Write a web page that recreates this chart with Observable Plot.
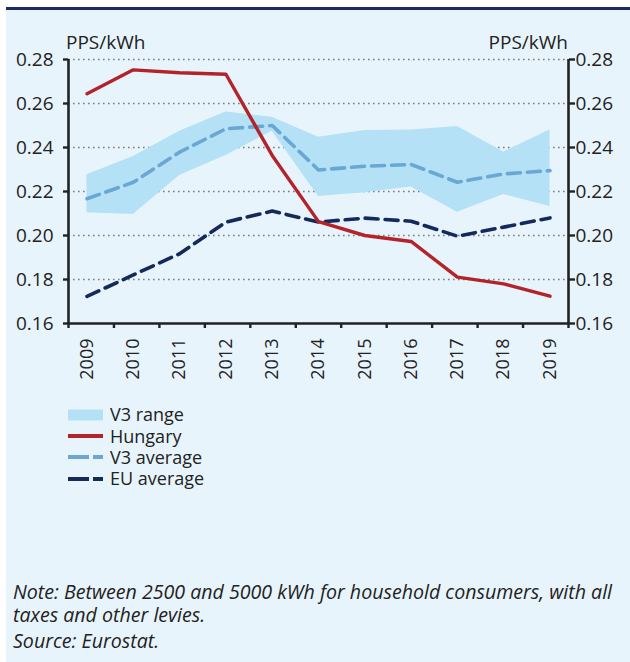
<!DOCTYPE html>
<html>
<head>
<meta charset="utf-8">
<script src="https://cdn.jsdelivr.net/npm/d3@7"></script>
<script src="https://cdn.jsdelivr.net/npm/@observablehq/plot@0.6"></script>
<style>
  html, body { margin: 0; padding: 0; background: #ffffff; }
  #wrap { position: relative; width: 630px; height: 662px; overflow: hidden; font-family: "Open Sans", sans-serif; color: #222; }
  #bg { position: absolute; left: 6px; top: 10px; right: 0; bottom: 0; background: #e8f4fb; }
  #topline { position: absolute; left: 6px; right: 0; top: 7px; height: 3px; background: #1c2a66; }
  #chart { position: absolute; left: 0; top: 0; }
  .unit { position: absolute; top: 29px; font-size: 19px; line-height: 26px; }
  #legend { position: absolute; left: 68px; top: 404px; font-size: 18px; }
  .row { display: flex; align-items: center; height: 21.4px; }
  .row svg { margin-right: 7px; flex: none; }
  .row span { display: block; height: 21px; line-height: 21px; }
  #notes { position: absolute; left: 13px; top: 580px; font-size: 19.6px; font-style: italic; }
  #notes div { white-space: nowrap; height: 23px; line-height: 23px; }
</style>
</head>
<body>
<div id="wrap">
  <div id="bg"></div>
  <div id="topline"></div>
  <div id="chart"></div>
  <div class="unit" style="left:66px;">PPS/kWh</div>
  <div class="unit" style="right:62px;">PPS/kWh</div>
  <div id="legend"></div>
  <div id="notes">
    <div>Note: Between 2500 and 5000 kWh for household consumers, with all</div>
    <div>taxes and other levies.</div>
    <div style="margin-top:3px;">Source: Eurostat.</div>
  </div>
</div>
<script>
const years = [2009, 2010, 2011, 2012, 2013, 2014, 2015, 2016, 2017, 2018, 2019];
const hungary = [0.2644, 0.2753, 0.2740, 0.2733, 0.2364, 0.2063, 0.2000, 0.1973, 0.1811, 0.1780, 0.1724];
const v3Average = [0.2167, 0.2242, 0.2379, 0.2485, 0.2500, 0.2298, 0.2315, 0.2323, 0.2242, 0.2280, 0.2295];
const v3Upper = [0.2276, 0.2359, 0.2474, 0.2561, 0.2538, 0.2447, 0.2477, 0.2480, 0.2495, 0.2379, 0.2480];
const v3Lower = [0.2103, 0.2095, 0.2273, 0.2364, 0.2474, 0.2177, 0.2194, 0.2220, 0.2106, 0.2186, 0.2132];
const euAverage = [0.1723, 0.1821, 0.1917, 0.2061, 0.2111, 0.2061, 0.2079, 0.2065, 0.1997, 0.2038, 0.2080];
const yTicks = [0.16, 0.18, 0.20, 0.22, 0.24, 0.26, 0.28];
const seriesNames = ["V3 range", "Hungary", "V3 average", "EU average"];

const colors = {
  range: "#b4e1f5",
  hungary: "#b3232a",
  v3: "#6aa7d4",
  eu: "#152a5c",
  axis: "#222222",
  grid: "#7a7a7a"
};

const rows = years.map((year, i) => ({
  year, hungary: hungary[i], v3: v3Average[i], hi: v3Upper[i], lo: v3Lower[i], eu: euAverage[i]
}));

const xDomain = [2008.6, 2019.4];
const yDomain = [0.16, 0.28];
const boundaries = d3.range(years.length + 1).map(k => xDomain[0] + k * (xDomain[1] - xDomain[0]) / years.length);

const chart = Plot.plot({
  width: 630,
  height: 400,
  marginTop: 59,
  marginBottom: 77,
  marginLeft: 68,
  marginRight: 62,
  style: { background: "transparent", fontFamily: "Open Sans, sans-serif", fontSize: "19px", color: "#222" },
  x: { domain: xDomain, axis: null },
  y: { domain: yDomain, axis: null },
  marks: [
    Plot.ruleY(yTicks.slice(1), { x1: xDomain[0], x2: xDomain[1], stroke: colors.grid, strokeWidth: 1.3, strokeDasharray: "1.6,3.4" }),
    Plot.areaY(rows, { x: "year", y1: "lo", y2: "hi", fill: colors.range, curve: "linear" }),
    Plot.line(rows, { x: "year", y: "eu", stroke: colors.eu, strokeWidth: 3.6, strokeDasharray: "13,7" }),
    Plot.line(rows, { x: "year", y: "v3", stroke: colors.v3, strokeWidth: 3.6, strokeDasharray: "13,7" }),
    Plot.line(rows, { x: "year", y: "hungary", stroke: colors.hungary, strokeWidth: 3.4 }),
    Plot.ruleX(xDomain, { y1: yDomain[0], y2: yDomain[1], stroke: colors.axis, strokeWidth: 2.6 }),
    Plot.ruleY([yDomain[0]], { x1: xDomain[0], x2: xDomain[1], stroke: colors.axis, strokeWidth: 2.6 }),
    Plot.axisY({ ticks: yTicks, anchor: "left", tickSize: 5, tickPadding: 10, tickFormat: d3.format(".2f"), stroke: colors.axis, strokeWidth: 2.4, fill: "#222", label: null }),
    Plot.axisY({ ticks: yTicks, anchor: "right", tickSize: 6, tickPadding: 1, tickFormat: d3.format(".2f"), stroke: colors.axis, strokeWidth: 2.4, fill: "#222", label: null }),
    Plot.axisX({ ticks: boundaries, anchor: "bottom", tickSize: 5, tickFormat: () => "", stroke: colors.axis, strokeWidth: 2.4, label: null }),
    Plot.axisX({ ticks: years, anchor: "bottom", tickSize: 0, tickPadding: 15, tickRotate: -90, tickFormat: d => String(d), fill: "#222", fontSize: 18, label: null })
  ]
});
document.getElementById("chart").appendChild(chart);

// Legend
const legend = d3.select("#legend");
const swatches = [
  { name: seriesNames[0], type: "rect", color: colors.range },
  { name: seriesNames[1], type: "line", color: colors.hungary, dash: null },
  { name: seriesNames[2], type: "line", color: colors.v3, dash: "21,4" },
  { name: seriesNames[3], type: "line", color: colors.eu, dash: "21,4" }
];
swatches.forEach(s => {
  const row = legend.append("div").attr("class", "row");
  const svg = row.append("svg").attr("width", 35).attr("height", 14);
  if (s.type === "rect") {
    svg.append("rect").attr("x", 0).attr("y", 1.5).attr("width", 35).attr("height", 11).attr("fill", s.color);
  } else {
    const ln = svg.append("line").attr("x1", 0).attr("x2", 35).attr("y1", 7).attr("y2", 7)
      .attr("stroke", s.color).attr("stroke-width", 4);
    if (s.dash) ln.attr("stroke-dasharray", s.dash);
  }
  row.append("span").text(s.name);
});
</script>
</body>
</html>
